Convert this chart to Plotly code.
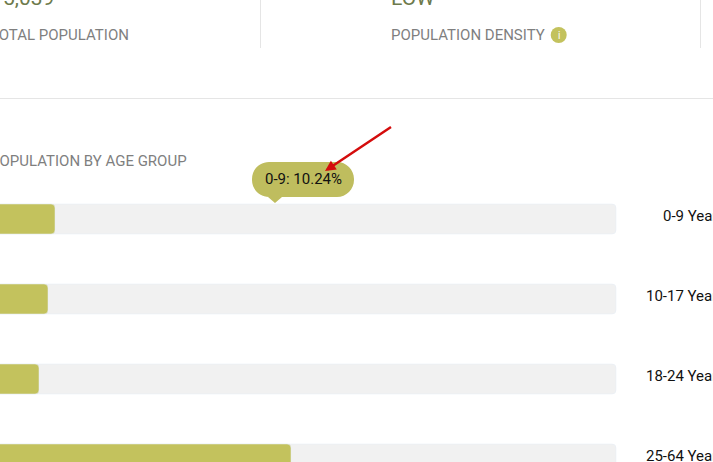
import plotly.graph_objects as go

categories = ["0-9", "10-17", "18-24", "25-64"]
labels = ["0-9 Years", "10-17 Years", "18-24 Years", "25-64 Years"]
values = [10.24, 9.12, 7.68, 48.0]
track = [100, 100, 100, 100]

W, H = 713, 462
OLIVE = "#c3c25d"
TIP = "#bfbd5e"
GREY = "#7f7f7f"
LINE = "#e5e5e5"


def px(x):
    return x / W


def py(y):
    return 1 - y / H


def pt(x, y):
    return f"{px(x):.5f},{py(y):.5f}"


fig = go.Figure()
fig.add_bar(y=categories, x=track, orientation="h", marker_color="#f1f1f1", width=0.375, hoverinfo="skip", yaxis="y")
fig.add_bar(y=categories, x=values, orientation="h", marker_color=OLIVE, width=0.375, hoverinfo="skip", yaxis="y2")


def rounded(x0, y0, x1, y1, r):
    k = r * 0.45
    return " ".join([
        "M", pt(x0 + r, y0), "L", pt(x1 - r, y0),
        "C", pt(x1 - k, y0), pt(x1, y0 + k), pt(x1, y0 + r),
        "L", pt(x1, y1 - r),
        "C", pt(x1, y1 - k), pt(x1 - k, y1), pt(x1 - r, y1),
        "L", pt(282, y1), "L", pt(275, y1 + 6), "L", pt(268, y1),
        "L", pt(x0 + r, y1),
        "C", pt(x0 + k, y1), pt(x0, y1 - k), pt(x0, y1 - r),
        "L", pt(x0, y0 + r),
        "C", pt(x0, y0 + k), pt(x0 + k, y0), pt(x0 + r, y0), "Z",
    ])


shapes = [
    dict(type="line", xref="paper", yref="paper", x0=px(260.5), x1=px(260.5), y0=py(0), y1=py(48), line=dict(color=LINE, width=1), layer="below"),
    dict(type="line", xref="paper", yref="paper", x0=px(700.5), x1=px(700.5), y0=py(0), y1=py(48), line=dict(color=LINE, width=1), layer="below"),
    dict(type="line", xref="paper", yref="paper", x0=0, x1=1, y0=py(98.5), y1=py(98.5), line=dict(color=LINE, width=1), layer="below"),
    dict(type="circle", xref="paper", yref="paper", x0=px(550.7), x1=px(566.7), y0=py(27), y1=py(43), fillcolor=OLIVE, line=dict(width=0)),
    dict(type="path", xref="paper", yref="paper", path=rounded(252, 162, 354, 197, 17), fillcolor=TIP, line=dict(width=0)),
]


def note(text, x, y, size=15, color=GREY, anchor="left", shift=0, **kw):
    return dict(text=text, xref="paper", yref="paper", x=px(x), y=py(y), xanchor=anchor, yanchor="middle",
                xshift=shift, showarrow=False, font=dict(family="Roboto", size=size, color=color), **kw)


annotations = [
    note("TOTAL POPULATION", 131, 34.5, anchor="right"),
    note("POPULATION DENSITY", 389, 34.5),
    note("POPULATION BY AGE GROUP", 189.5, 160.5, anchor="right"),
    note("5,039", 56, -1.5, size=21, color="#6d7a4c", anchor="right"),
    note("LOW", 389, -1.5, size=21, color="#6d7a4c"),
    note("i", 558.7, 35, size=10, color="#ffffff", anchor="center"),
    note("0-9: 10.24%", 303, 179, color="#111111", anchor="center"),
]
for i, lab in enumerate(labels):
    annotations.append(dict(text=lab, xref="paper", yref="y", x=1, y=categories[i], xanchor="right", yanchor="middle",
                            xshift=14, yshift=3, showarrow=False,
                            font=dict(family="Roboto", size=15, color="#111111")))
annotations.append(dict(text=" ", xref="paper", yref="paper", x=px(325), y=py(171), ax=69, ay=-46, showarrow=True,
                        arrowhead=2, arrowsize=0.85, arrowwidth=2.5, arrowcolor="#d40c0c"))

y_common = dict(type="category", categoryorder="array", categoryarray=categories,
                range=[(462 - 219) / 80, (0 - 219) / 80], visible=False, fixedrange=True)

fig.update_layout(
    width=W, height=H, margin=dict(l=0, r=0, t=0, b=0, pad=0),
    paper_bgcolor="#ffffff", plot_bgcolor="#ffffff", showlegend=False,
    barmode="overlay", barcornerradius=4,
    shapes=shapes, annotations=annotations,
    font=dict(family="Roboto"),
    xaxis=dict(range=[9 / 6.25, (713 + 9) / 6.25], visible=False, fixedrange=True),
    yaxis=y_common,
    yaxis2=dict(**y_common, overlaying="y"),
)

fig.write_html("out.html", config=dict(displayModeBar=False),
               post_script="document.body.style.margin='0';document.body.style.overflow='hidden';")
